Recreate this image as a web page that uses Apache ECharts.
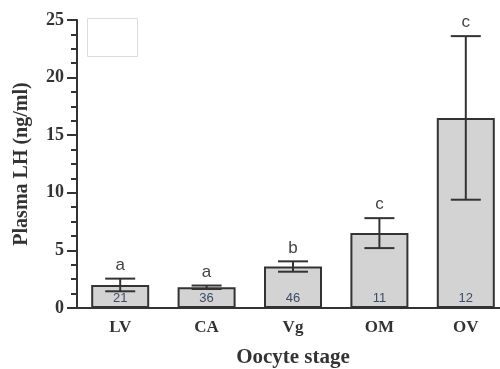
<!DOCTYPE html>
<html>
<head>
<meta charset="utf-8">
<script src="https://cdn.jsdelivr.net/npm/echarts@6/dist/echarts.min.js"></script>
<style>
  html, body { margin: 0; padding: 0; background: #fff; }
  #chart { width: 500px; height: 369px; }
</style>
</head>
<body>
<div id="chart"></div>
<script>
// Oocyte stages along the x axis
const stages = ['LV', 'CA', 'Vg', 'OM', 'OV'];
// Mean plasma LH (ng/ml) per stage
const meanLH = [2.0, 1.8, 3.6, 6.5, 16.5];
// Standard error of the mean
const semLH = [0.55, 0.15, 0.45, 1.3, 7.1];
// Sample size per stage
const sampleN = [21, 36, 46, 11, 12];
// Significance group letters
const groupLetters = ['a', 'a', 'b', 'c', 'c'];
// Y axis range and ticks
const yMin = 0, yMax = 25, yStep = 5;

const ink = '#333';
const serifBold = { fontFamily: 'Liberation Serif', fontWeight: 'bold', color: ink };

const errorData = stages.map((s, i) => [i, meanLH[i] - semLH[i], meanLH[i] + semLH[i], groupLetters[i]]);

const chart = echarts.init(document.getElementById('chart'), null, { renderer: 'canvas' });
chart.setOption({
  animation: false,
  backgroundColor: '#fff',
  grid: { left: 77, top: 20, width: 432, height: 288, outerBoundsMode: 'none', containLabel: false },
  graphic: [{
    type: 'rect',
    shape: { x: 87.5, y: 18.5, width: 50, height: 38 },
    style: { fill: '#fff', stroke: '#dcdcdc', lineWidth: 1 }
  }],
  xAxis: {
    type: 'category',
    data: stages,
    name: 'Oocyte stage',
    nameLocation: 'middle',
    nameGap: 39,
    nameTextStyle: Object.assign({ fontSize: 21 }, serifBold),
    axisLine: { lineStyle: { color: ink, width: 2 } },
    axisTick: { alignWithLabel: true, length: 8, lineStyle: { color: ink, width: 2 } },
    axisLabel: Object.assign({ fontSize: 17, margin: 11 }, serifBold)
  },
  yAxis: {
    type: 'value',
    min: yMin, max: yMax, interval: yStep,
    name: 'Plasma LH (ng/ml)',
    nameLocation: 'middle',
    nameGap: 45,
    nameTextStyle: Object.assign({ fontSize: 20 }, serifBold),
    axisLine: { show: true, lineStyle: { color: ink, width: 2 } },
    axisTick: { show: true, length: 10, lineStyle: { color: ink, width: 2 } },
    minorTick: { show: true, splitNumber: 4, length: 6, lineStyle: { color: ink, width: 2 } },
    splitLine: { show: false },
    axisLabel: Object.assign({ fontSize: 18, margin: 13 }, serifBold)
  },
  series: [
    {
      type: 'bar',
      data: meanLH,
      barWidth: 58,
      itemStyle: { color: '#d3d3d3', borderColor: ink, borderWidth: 2 },
      label: {
        show: true,
        position: 'insideBottom',
        distance: 3,
        formatter: p => String(sampleN[p.dataIndex]),
        fontFamily: 'Liberation Sans',
        fontSize: 13,
        color: '#3c4a66'
      },
      z: 2
    },
    {
      type: 'custom',
      data: errorData,
      z: 3,
      renderItem: function (params, api) {
        const x = api.value(0);
        const lo = api.coord([x, api.value(1)]);
        const hi = api.coord([x, api.value(2)]);
        const half = 15;
        const line = { stroke: ink, lineWidth: 2 };
        return {
          type: 'group',
          children: [
            { type: 'line', shape: { x1: hi[0], y1: hi[1], x2: lo[0], y2: lo[1] }, style: line },
            { type: 'line', shape: { x1: hi[0] - half, y1: hi[1], x2: hi[0] + half, y2: hi[1] }, style: line },
            { type: 'line', shape: { x1: lo[0] - half, y1: lo[1], x2: lo[0] + half, y2: lo[1] }, style: line },
            {
              type: 'text',
              style: {
                text: api.value(3),
                x: hi[0], y: hi[1] - 5,
                align: 'center', verticalAlign: 'bottom',
                fontFamily: 'Liberation Sans', fontSize: 17, fill: '#444'
              }
            }
          ]
        };
      }
    }
  ]
});
</script>
</body>
</html>
